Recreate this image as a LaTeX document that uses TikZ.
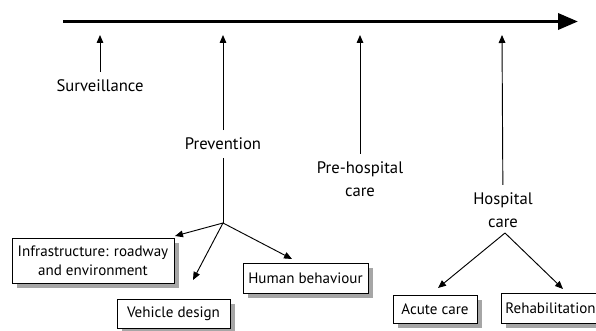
\documentclass[tikz,border=0pt]{standalone}
\usepackage{fontspec}
\setmainfont{PT Sans}
\usetikzlibrary{arrows.meta,shadows}
\begin{document}
\begin{tikzpicture}[x=0.75pt, y=-0.75pt, line width=0.7pt,
  lbl/.style = {align=center, inner sep=5.5pt, font=\fontsize{12.5}{17}\selectfont},
  box/.style = {draw, fill=white, line width=0.6pt, align=center, inner sep=0pt, font=\fontsize{11.3}{14.3}\selectfont, drop shadow={shadow xshift=3.5pt, shadow yshift=-3.5pt, opacity=1, fill=gray!70}},
  arr/.style = {-{Triangle[length=6pt,width=5pt]}},
  axis/.style = {-{Triangle[length=15pt,width=12pt]}, line width=2.6pt}]
\useasboundingbox (0,0) rectangle (596,331);

\coordinate (start) at (63,21.5);
\coordinate (end) at (578,21.5);
\draw[axis] (start) -- (end);

\node[lbl] (surv) at (100,86) {Surveillance};
\node[lbl] (prev) at (223,144) {Prevention};
\node[lbl] (pre)  at (360,179) {Pre-hospital\\care};
\node[lbl] (hosp) at (503,210) {Hospital\\care};

\coordinate (surv-tip) at (100,35);
\coordinate (prev-tip) at (223,35);
\coordinate (pre-tip)  at (360,35);
\coordinate (hosp-tip) at (502,35);
\coordinate (prev-fork) at (223,223);
\coordinate (hosp-fork) at (505,233);

\node[box, minimum width=121.5pt, minimum height=33.75pt] (infra) at (93,260.5) {Infrastructure: roadway\\and environment};
\node[box, minimum width=84.75pt, minimum height=21.75pt] (vehicle) at (173.5,313.5) {Vehicle design};
\node[box, minimum width=93.75pt, minimum height=22.5pt] (human) at (305.5,278) {Human behaviour};
\node[box, minimum width=63pt, minimum height=21pt] (acute) at (435,309) {Acute care};
\node[box, minimum width=74.25pt, minimum height=22.5pt] (rehab) at (550.5,308.5) {Rehabilitation};

\coordinate (infra-tip)   at (175,236);
\coordinate (vehicle-tip) at (193,280);
\coordinate (human-tip)   at (292,259);
\coordinate (acute-tip)   at (438,288);
\coordinate (rehab-tip)   at (563,289);

\draw[arr] (surv) -- (surv-tip);
\draw[arr] (prev) -- (prev-tip);
\draw[arr] (pre) -- (pre-tip);
\draw[arr] (hosp) -- (hosp-tip);
\draw (prev) -- (prev-fork);
\draw[arr] (prev-fork) -- (infra-tip);
\draw[arr] (prev-fork) -- (vehicle-tip);
\draw[arr] (prev-fork) -- (human-tip);
\draw[arr] (hosp-fork) -- (acute-tip);
\draw[arr] (hosp-fork) -- (rehab-tip);

\end{tikzpicture}
\end{document}
